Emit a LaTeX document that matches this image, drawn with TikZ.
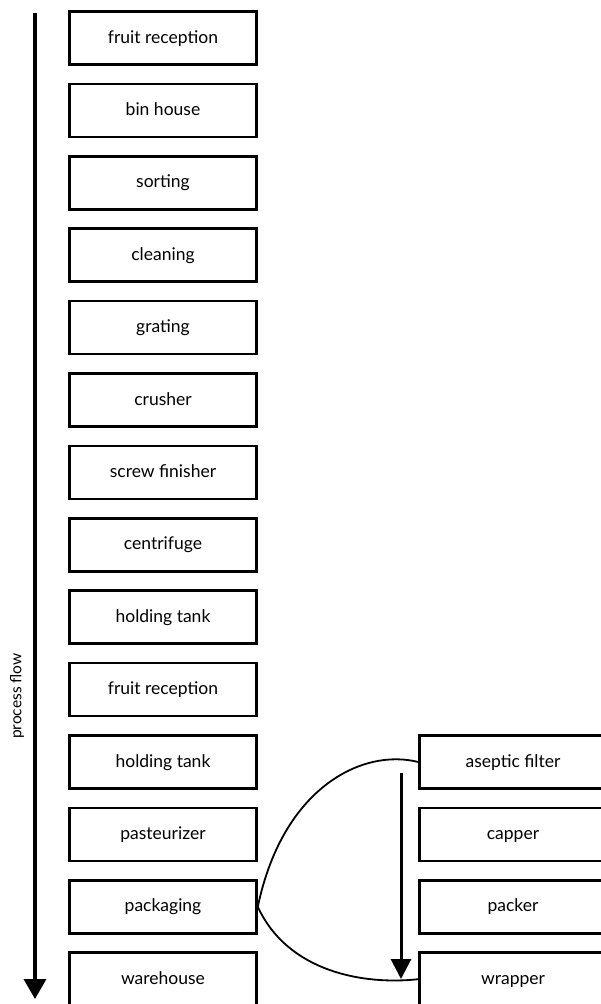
\documentclass[tikz,border=0pt]{standalone}
\usepackage{fontspec}
\setmainfont{Lato}
\usetikzlibrary{arrows.meta}
\begin{document}
\begin{tikzpicture}[x=1pt,y=-1pt,
  stepbox/.style={draw,line width=2.6pt,minimum width=187pt,minimum height=53pt,inner sep=0pt,text height=11pt,text depth=1pt,font=\fontsize{17.5}{20}\selectfont},
  flowarrow/.style={line width=3.6pt,-{Triangle[width=22pt,length=20pt]}},
  curve/.style={line width=1.8pt}]
\useasboundingbox (0,0) rectangle (600,1004);
\foreach \i/\t [count=\k from 0] in {a/fruit reception,b/bin house,c/sorting,d/cleaning,e/grating,f/crusher,g/screw finisher,h/centrifuge,i/holding tank,j/fruit reception,k/holding tank,l/pasteurizer,m/packaging,n/warehouse}
  \node[stepbox] (\i) at (163,38+72.4*\k) {\t};
\foreach \i/\t [count=\k from 10] in {p/aseptic filter,q/capper,r/packer,s/wrapper}
  \node[stepbox] (\i) at (513,38+72.4*\k) {\t};
\coordinate (ls) at (35,13);
\coordinate (le) at (35,999);
\draw[flowarrow] (ls) -- (le);
\node[rotate=90,font=\fontsize{15.5}{18}\selectfont] (pf) at (17,696) {process flow};
\coordinate (rs) at (401,773);
\coordinate (re) at (401,979);
\draw[flowarrow,line width=3pt,-{Triangle[width=20pt,length=20pt]}] (rs) -- (re);
\draw[curve] (m.east) .. controls +(25,-120) and +(-55,-14) .. (p.west);
\draw[curve] (m.east) .. controls +(30,65) and +(-55,6) .. (s.west);
\end{tikzpicture}
\end{document}
